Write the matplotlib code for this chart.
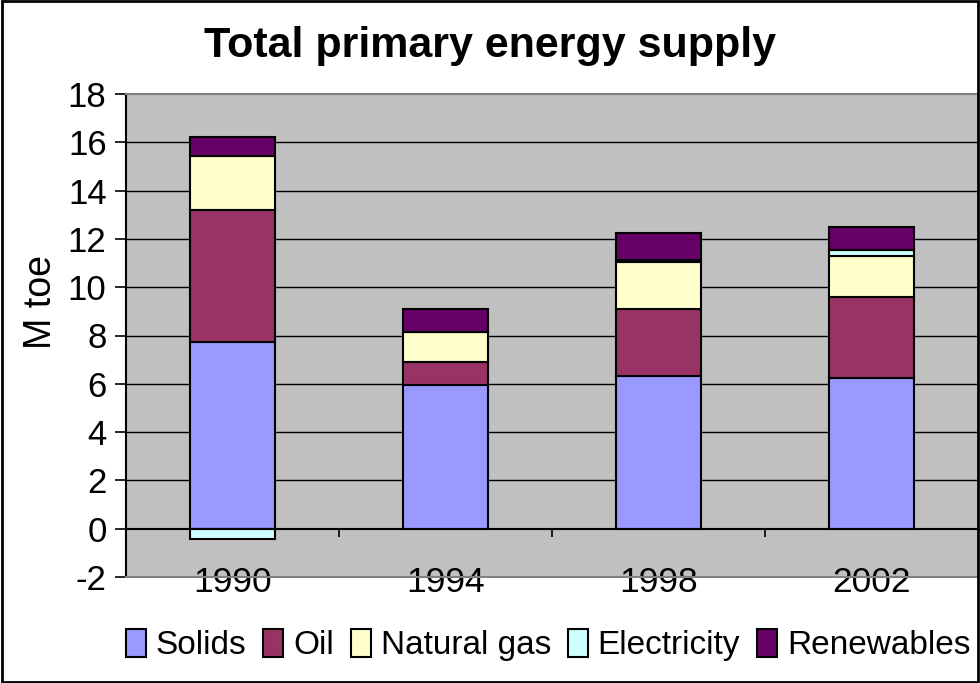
import numpy as np
import matplotlib
matplotlib.use("Agg")
import matplotlib.pyplot as plt
from matplotlib.patches import Rectangle

# values (M toe)
years = ["1990", "1994", "1998", "2002"]
solids = [7.74, 5.93, 6.34, 6.26]
oil = [5.46, 0.99, 2.75, 3.33]
natural_gas = [2.23, 1.22, 1.97, 1.72]
electricity = [-0.42, 0.0, 0.06, 0.23]
renewables = [0.79, 0.95, 1.11, 0.94]

series = [
    ("Solids", solids, "#9999FF"),
    ("Oil", oil, "#993366"),
    ("Natural gas", natural_gas, "#FFFFCC"),
    ("Electricity", electricity, "#CCFFFF"),
    ("Renewables", renewables, "#660066"),
]

plt.rcParams["font.family"] = ["Liberation Sans", "DejaVu Sans"]
plt.rcParams["axes.unicode_minus"] = False

fig = plt.figure(figsize=(9.8, 6.83), dpi=100)
ax = fig.add_axes([126 / 980, 106 / 683, 852 / 980, 483 / 683])
ax.set_facecolor("#C0C0C0")

x = np.arange(len(years))
pos_base = np.zeros(len(years))
neg_base = np.zeros(len(years))
for name, vals, color in series:
    vals = np.array(vals, dtype=float)
    bottom = np.where(vals >= 0, pos_base, neg_base)
    ax.bar(x, vals, 0.4, bottom=bottom, color=color, edgecolor="black",
           linewidth=1.5, label=name, zorder=3)
    pos_base += np.where(vals >= 0, vals, 0)
    neg_base += np.where(vals < 0, vals, 0)

ax.set_xlim(-0.5, len(years) - 0.5)
ax.set_ylim(-2, 18)
ax.set_yticks(np.arange(-2, 19, 2))
for y in range(2, 18, 2):
    ax.axhline(y, color="black", linewidth=1, zorder=1)
ax.axhline(0, color="black", linewidth=1.5, zorder=4)
ax.vlines(np.arange(0.5, len(years) - 0.5), -0.33, 0, color="black",
          linewidth=1.2, zorder=4)

ax.set_xticks(x)
ax.set_xticklabels(years)
ax.tick_params(axis="x", length=0, pad=-8, labelsize=25.5)
ax.tick_params(axis="y", length=8, width=1.2, direction="out", labelsize=25, pad=6)

for side in ("top", "bottom", "right"):
    ax.spines[side].set_color("#808080")
    ax.spines[side].set_linewidth(1.5)
ax.spines["left"].set_color("black")
ax.spines["left"].set_linewidth(1.5)
ax.spines["right"].set_visible(False)

ax.set_ylabel("M toe", fontsize=27)
ax.yaxis.set_label_coords(-0.079, 0.57)
fig.text(0.5, 0.932, "Total primary energy supply", ha="center", va="center",
         fontsize=31, fontweight="bold")

ax.legend(loc="center", bbox_to_anchor=(548 / 980, 38 / 683),
          bbox_transform=fig.transFigure, ncol=5, frameon=False, fontsize=24,
          handlelength=0.6, handleheight=0.9, handletextpad=0.3,
          columnspacing=0.5, borderpad=0)

fig.patches.append(Rectangle((0.002, 0.002), 0.996, 0.996, transform=fig.transFigure,
                             fill=False, edgecolor="black", linewidth=2))

fig.savefig("out.png", dpi=100)
